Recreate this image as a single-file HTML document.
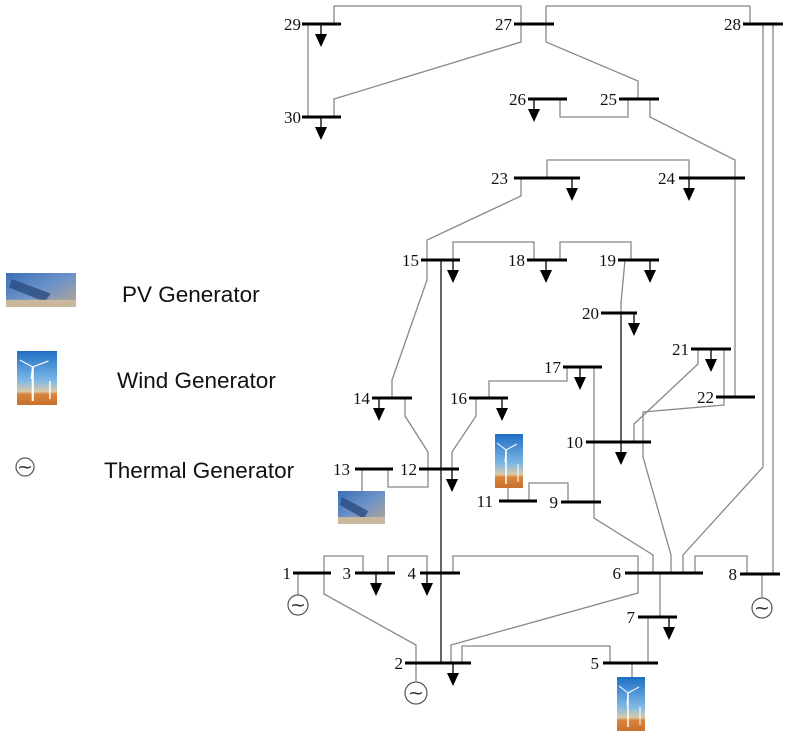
<!DOCTYPE html>
<html><head><meta charset="utf-8"><style>
html,body{margin:0;padding:0;background:#fff;}
svg{display:block;}
.n{font-family:"Liberation Serif",serif;font-size:17px;fill:#111;}
.lg{font-family:"Liberation Sans","DejaVu Sans",sans-serif;font-size:22.5px;fill:#111;}
</style></head><body>
<svg width="789" height="738" viewBox="0 0 789 738" xmlns="http://www.w3.org/2000/svg">
<defs>
<linearGradient id="wg" x1="0" y1="0" x2="0" y2="1">
<stop offset="0" stop-color="#1f6fc4"/><stop offset="0.55" stop-color="#7fb8e6"/><stop offset="0.75" stop-color="#d9c9a8"/><stop offset="0.8" stop-color="#d9843a"/><stop offset="1" stop-color="#c8702e"/>
</linearGradient>
<linearGradient id="pg" x1="0" y1="0" x2="1" y2="1">
<stop offset="0" stop-color="#3a6fb8"/><stop offset="0.5" stop-color="#6d93c8"/><stop offset="1" stop-color="#b9a890"/>
</linearGradient>
<g id="wind">
<rect x="0" y="0" width="28" height="54" fill="url(#wg)"/>
<line x1="11" y1="16" x2="11" y2="50" stroke="#fff" stroke-width="1.5"/>
<line x1="11" y1="16" x2="2" y2="9" stroke="#fff" stroke-width="1"/>
<line x1="11" y1="16" x2="22" y2="10" stroke="#fff" stroke-width="1"/>
<line x1="11" y1="16" x2="10" y2="28" stroke="#fff" stroke-width="1"/>
<line x1="23" y1="30" x2="23" y2="48" stroke="#fff" stroke-width="1"/>
</g>
<g id="pv">
<rect x="0" y="0" width="47" height="33" fill="url(#pg)"/>
<polygon points="4,6 30,20 26,28 2,14" fill="#2b4c80" opacity="0.8"/>
<rect x="0" y="26" width="47" height="7" fill="#c9b89e"/>
</g>
<g id="load"><line x1="0" y1="0" x2="0" y2="10" stroke="#000" stroke-width="1.3"/><polygon points="-6,10 6,10 0,23" fill="#000"/></g>
</defs>

<g fill="none" stroke="#888" stroke-width="1.3">
<polyline points="334,24 334,6 521,6 521,42 334,99 334,117"/>
<line x1="308" y1="24" x2="308" y2="117"/>
<polyline points="546,24 546,6 750,6 750,24"/>
<polyline points="546,24 546,42 638,81 638,99"/>
<polyline points="763,24 763,467 683,555 683,573"/>
<line x1="773" y1="24" x2="773" y2="574"/>
<polyline points="560,99 560,117 628,117 628,99"/>
<polyline points="650,99 650,117 735,160 735,397"/>
<polyline points="547,178 547,160 689,160 689,178"/>
<polyline points="521,178 521,196 427,240 427,260"/>
<polyline points="453,260 453,242 534,242 534,260"/>
<polyline points="560,260 560,242 631,242 631,260"/>
<polyline points="625,260 621,303 621,313"/>
<polyline points="427,260 427,280 392,380 392,398"/>
<polyline points="405,398 405,416 428,452 428,487 388,487 388,469"/>
<polyline points="567,367 567,381 489,381 489,398"/>
<polyline points="476,398 476,416 452,452 452,469"/>
<polyline points="698,349 698,364 634,424 634,442"/>
<polyline points="724,349 724,405 643,412 643,457 671,555 671,573"/>
<polyline points="594,367 594,518 653,555 653,573"/>
<polyline points="529,501 529,483 568,483 568,502"/>
<polyline points="324,573 324,556 363,556 363,573"/>
<polyline points="324,573 324,594 416,645 416,663"/>
<polyline points="388,573 388,556 427,556 427,573"/>
<polyline points="453,573 453,556 638,556 638,593 451,645 451,663"/>
<polyline points="462,663 462,646 610,646 610,663"/>
<polyline points="695,573 695,556 747,556 747,574"/>
<line x1="660" y1="573" x2="660" y2="617"/>
<line x1="648" y1="617" x2="648" y2="663"/>
<line x1="362" y1="469" x2="362" y2="491"/>
<line x1="508" y1="488" x2="508" y2="501"/>
<line x1="632" y1="663" x2="632" y2="677"/>
<line x1="298" y1="573" x2="298" y2="595"/>
<line x1="416" y1="663" x2="416" y2="681"/>
<line x1="762" y1="574" x2="762" y2="598"/>
</g>
<line x1="441" y1="260" x2="441" y2="663" stroke="#000" stroke-width="1.2"/>
<line x1="621" y1="313" x2="621" y2="452" stroke="#000" stroke-width="1.2"/>
<polygon points="615,452 627,452 621,465" fill="#000"/>

<g stroke="#000" stroke-width="3">
<line x1="302" y1="24" x2="341" y2="24"/>
<line x1="514" y1="24" x2="554" y2="24"/>
<line x1="743" y1="24" x2="783" y2="24"/>
<line x1="302" y1="117" x2="341" y2="117"/>
<line x1="528" y1="99" x2="567" y2="99"/>
<line x1="619" y1="99" x2="659" y2="99"/>
<line x1="514" y1="178" x2="580" y2="178"/>
<line x1="679" y1="178" x2="745" y2="178"/>
<line x1="421" y1="260" x2="460" y2="260"/>
<line x1="527" y1="260" x2="567" y2="260"/>
<line x1="618" y1="260" x2="659" y2="260"/>
<line x1="601" y1="313" x2="637" y2="313"/>
<line x1="691" y1="349" x2="731" y2="349"/>
<line x1="716" y1="397" x2="755" y2="397"/>
<line x1="563" y1="367" x2="602" y2="367"/>
<line x1="469" y1="398" x2="508" y2="398"/>
<line x1="372" y1="398" x2="412" y2="398"/>
<line x1="355" y1="469" x2="393" y2="469"/>
<line x1="419" y1="469" x2="459" y2="469"/>
<line x1="586" y1="442" x2="651" y2="442"/>
<line x1="499" y1="501" x2="537" y2="501"/>
<line x1="561" y1="502" x2="601" y2="502"/>
<line x1="293" y1="573" x2="331" y2="573"/>
<line x1="355" y1="573" x2="395" y2="573"/>
<line x1="420" y1="573" x2="460" y2="573"/>
<line x1="625" y1="573" x2="703" y2="573"/>
<line x1="740" y1="574" x2="780" y2="574"/>
<line x1="638" y1="617" x2="677" y2="617"/>
<line x1="405" y1="663" x2="471" y2="663"/>
<line x1="603" y1="663" x2="658" y2="663"/>
</g>

<use href="#load" x="321" y="24"/>
<use href="#load" x="321" y="117"/>
<use href="#load" x="534" y="99"/>
<use href="#load" x="572" y="178"/>
<use href="#load" x="689" y="178"/>
<use href="#load" x="453" y="260"/>
<use href="#load" x="546" y="260"/>
<use href="#load" x="650" y="260"/>
<use href="#load" x="634" y="313"/>
<use href="#load" x="711" y="349"/>
<use href="#load" x="580" y="367"/>
<use href="#load" x="502" y="398"/>
<use href="#load" x="379" y="398"/>
<use href="#load" x="452" y="469"/>
<use href="#load" x="376" y="573"/>
<use href="#load" x="427" y="573"/>
<use href="#load" x="669" y="617"/>
<use href="#load" x="453" y="663"/>

<g fill="#fff" stroke="#555" stroke-width="1.2">
<circle cx="298" cy="605" r="10"/>
<circle cx="416" cy="693" r="11"/>
<circle cx="762" cy="608" r="10"/>
<circle cx="25" cy="467" r="9"/>
</g>
<g font-family="DejaVu Sans,sans-serif" font-size="19" fill="#333" text-anchor="middle">
<text x="298" y="611">~</text><text x="416" y="699">~</text><text x="762" y="614">~</text><text x="25" y="473">~</text>
</g>

<use href="#pv" x="338" y="491"/>
<use href="#wind" x="495" y="434"/>
<use href="#wind" x="617" y="677"/>
<g transform="translate(6,273) scale(1.49,1.03)"><use href="#pv"/></g>
<g transform="translate(17,351) scale(1.43,1)"><use href="#wind"/></g>

<g class="n" text-anchor="end">
<text x="301" y="30">29</text>
<text x="512" y="30">27</text>
<text x="741" y="30">28</text>
<text x="301" y="123">30</text>
<text x="526" y="105">26</text>
<text x="617" y="105">25</text>
<text x="508" y="184">23</text>
<text x="675" y="184">24</text>
<text x="419" y="266">15</text>
<text x="525" y="266">18</text>
<text x="616" y="266">19</text>
<text x="599" y="319">20</text>
<text x="689" y="355">21</text>
<text x="714" y="403">22</text>
<text x="561" y="373">17</text>
<text x="467" y="404">16</text>
<text x="370" y="404">14</text>
<text x="350" y="475">13</text>
<text x="417" y="475">12</text>
<text x="583" y="448">10</text>
<text x="493" y="507">11</text>
<text x="558" y="508">9</text>
<text x="291" y="579">1</text>
<text x="351" y="579">3</text>
<text x="416" y="579">4</text>
<text x="621" y="579">6</text>
<text x="737" y="580">8</text>
<text x="635" y="623">7</text>
<text x="403" y="669">2</text>
<text x="599" y="669">5</text>
</g>

<text class="lg" x="122" y="302">PV Generator</text>
<text class="lg" x="117" y="388">Wind Generator</text>
<text class="lg" x="104" y="478">Thermal Generator</text>
</svg>
</body></html>
